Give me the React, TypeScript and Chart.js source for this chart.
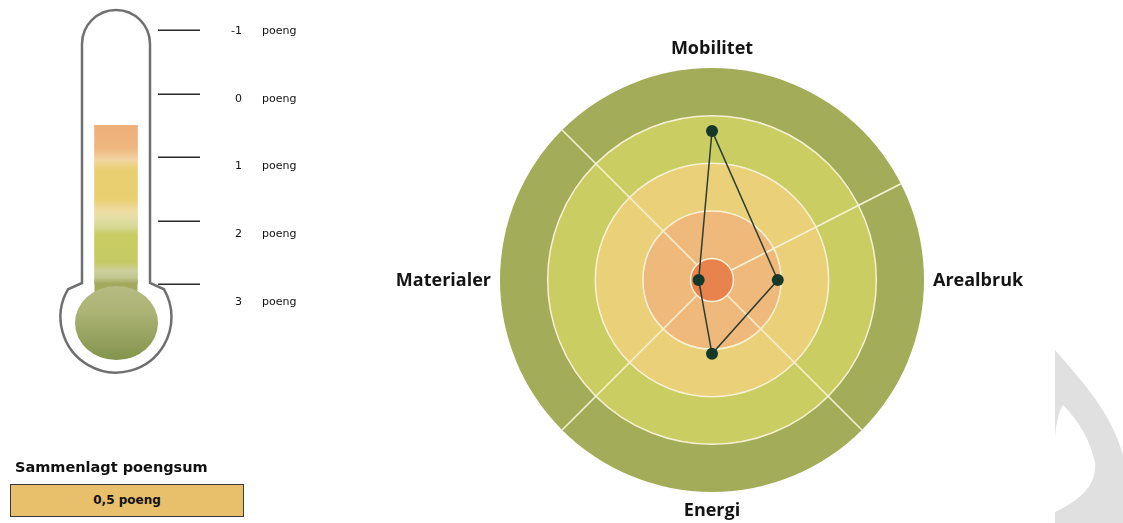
import React, { useEffect, useRef } from 'react';
import { Chart, registerables } from 'chart.js';

Chart.register(...registerables);

// ---------- data ----------
const radarLabels = ['Mobilitet', 'Arealbruk', 'Energi', 'Materialer'];
const radarValues = [1.68, -0.07, 0.1, -1.17];
const radarMin = -1.45;
const radarMax = 3;
const ringValues = [3, 2, 1, 0, -1]; // outer -> inner band edges
const ringColors = ['#a3ac58', '#c9cd62', '#ead078', '#f0b97c', '#e8834d'];
const dividerAngles = [-27, 45, 135, -135];

const thermoTicks = [-1, 0, 1, 2, 3];
const thermoUnit = 'poeng';
const totalScore = 0.5;
const totalLabel = '0,5 poeng';
const totalTitle = 'Sammenlagt poengsum';

// ---------- plugins ----------
const ringsPlugin = {
  id: 'rings',
  beforeDatasetsDraw(chart: any) {
    const s = chart.scales.r;
    const ctx = chart.ctx;
    const cx = s.xCenter;
    const cy = s.yCenter;
    const d = (v: number) => s.getDistanceFromCenterForValue(v);
    ctx.save();
    ringValues.forEach((v, k) => {
      if (k === ringValues.length - 1) return;
      ctx.beginPath();
      ctx.arc(cx, cy, d(v), 0, Math.PI * 2);
      ctx.fillStyle = ringColors[k];
      ctx.fill();
    });
    ctx.strokeStyle = '#f7f2d6';
    ctx.lineWidth = 1.5;
    ringValues.slice(1, -1).forEach((v) => {
      ctx.beginPath();
      ctx.arc(cx, cy, d(v), 0, Math.PI * 2);
      ctx.stroke();
    });
    const r0 = d(ringValues[ringValues.length - 1]);
    const r1 = d(ringValues[0]);
    dividerAngles.forEach((deg) => {
      const a = (deg * Math.PI) / 180;
      ctx.beginPath();
      ctx.moveTo(cx + r0 * Math.cos(a), cy + r0 * Math.sin(a));
      ctx.lineTo(cx + r1 * Math.cos(a), cy + r1 * Math.sin(a));
      ctx.stroke();
    });
    ctx.beginPath();
    ctx.arc(cx, cy, r0, 0, Math.PI * 2);
    ctx.fillStyle = ringColors[ringColors.length - 1];
    ctx.fill();
    ctx.stroke();
    ctx.restore();
  },
  afterDraw(chart: any) {
    const s = chart.scales.r;
    const ctx = chart.ctx;
    const R = s.drawingArea;
    const size = 18;
    const cap = size * 0.72;
    ctx.save();
    ctx.font = `700 ${size}px "Open Sans", sans-serif`;
    ctx.fillStyle = '#141414';
    ctx.textBaseline = 'alphabetic';
    (chart.data.labels as string[]).forEach((lab, i) => {
      const a = s.getIndexAngle(i) - Math.PI / 2;
      const c = Math.cos(a);
      const sn = Math.sin(a);
      let x: number;
      let y: number;
      if (Math.abs(c) < 0.1) {
        ctx.textAlign = 'center';
        if (sn < 0) {
          const p = s.getPointPosition(i, R + 14);
          x = p.x;
          y = p.y;
        } else {
          const p = s.getPointPosition(i, R + 11);
          x = p.x;
          y = p.y + cap;
        }
      } else {
        ctx.textAlign = c > 0 ? 'left' : 'right';
        const p = s.getPointPosition(i, R + 9);
        x = p.x;
        y = p.y + cap / 2;
      }
      ctx.fillText(lab, x, y);
    });
    ctx.restore();
  },
};

const thermoPlugin = {
  id: 'thermo',
  beforeDatasetsDraw(chart: any) {
    const ctx = chart.ctx;
    const ys = chart.scales.y;
    const xs = chart.scales.x;
    const cx = xs.getPixelForValue(0);
    const yTop = ys.getPixelForValue(thermoTicks[0]);
    const yBot = ys.getPixelForValue(thermoTicks[thermoTicks.length - 1]);
    const hw = 34;
    const topC = yTop + 14;
    const neck = yBot - 1;
    const bulbC = yBot + 33;
    const bulbR = 55.5;
    ctx.save();
    ctx.beginPath();
    ctx.moveTo(cx - hw, neck);
    const aL = Math.PI + Math.PI / 6;
    ctx.lineTo(cx + bulbR * Math.cos(aL), bulbC + bulbR * Math.sin(aL));
    ctx.arc(cx, bulbC, bulbR, aL, -Math.PI / 6, true);
    ctx.lineTo(cx + hw, neck);
    ctx.lineTo(cx + hw, topC);
    ctx.arc(cx, topC, hw, 0, Math.PI, true);
    ctx.closePath();
    ctx.fillStyle = '#ffffff';
    ctx.fill();
    ctx.strokeStyle = '#6f6f6f';
    ctx.lineWidth = 2.5;
    ctx.stroke();

    // neck connector + bulb
    ctx.fillStyle = '#a3aa5e';
    ctx.fillRect(cx - 21.5, yBot - 0.5, 43, 11);
    const by = yBot + 39;
    const g = ctx.createLinearGradient(0, by - 37, 0, by + 37);
    g.addColorStop(0, '#b6bb82');
    g.addColorStop(0.35, '#acb375');
    g.addColorStop(1, '#83944b');
    ctx.beginPath();
    ctx.ellipse(cx + 0.5, by, 41.5, 37, 0, 0, Math.PI * 2);
    ctx.fillStyle = g;
    ctx.fill();
    ctx.restore();
  },
  afterDraw(chart: any) {
    const ctx = chart.ctx;
    const ys = chart.scales.y;
    const xs = chart.scales.x;
    const cx = xs.getPixelForValue(0);
    ctx.save();
    ctx.strokeStyle = '#2a2a2a';
    ctx.lineWidth = 1.5;
    ctx.font = '11px "DejaVu Sans", sans-serif';
    ctx.fillStyle = '#111';
    ctx.textBaseline = 'middle';
    thermoTicks.forEach((v) => {
      const py = Math.round(ys.getPixelForValue(v)) + 0.25;
      ctx.beginPath();
      ctx.moveTo(cx + 42, py);
      ctx.lineTo(cx + 84, py);
      ctx.stroke();
      const ly = py + 1 + (v - thermoTicks[0]) * 4.1;
      ctx.textAlign = 'right';
      ctx.fillText(String(v), cx + 126, ly);
      ctx.textAlign = 'left';
      ctx.fillText(thermoUnit, cx + 146, ly);
    });
    ctx.restore();
  },
};

function barGradient(context: any) {
  const chart = context.chart;
  const ys = chart.scales.y;
  if (!chart.chartArea || !ys) return '#e9cf70';
  const lo = thermoTicks[0];
  const hi = thermoTicks[thermoTicks.length - 1];
  const g = chart.ctx.createLinearGradient(0, ys.getPixelForValue(lo), 0, ys.getPixelForValue(hi));
  const f = (v: number) => (v - lo) / (hi - lo);
  g.addColorStop(f(0.5), '#efb07a');
  g.addColorStop(f(0.86), '#f0b57e');
  g.addColorStop(f(1.05), '#f2d5a2');
  g.addColorStop(f(1.2), '#e9cf70');
  g.addColorStop(f(1.65), '#e9cf70');
  g.addColorStop(f(1.85), '#f0dca2');
  g.addColorStop(f(1.97), '#e2dea4');
  g.addColorStop(f(2.1), '#d6d996');
  g.addColorStop(f(2.22), '#c8cc62');
  g.addColorStop(f(2.66), '#c6ca64');
  g.addColorStop(f(2.8), '#ccd09c');
  g.addColorStop(f(2.9), '#c2c690');
  g.addColorStop(1, '#a0a85a');
  return g;
}

export default function App() {
  const thermoRef = useRef<HTMLCanvasElement>(null);
  const radarRef = useRef<HTMLCanvasElement>(null);

  useEffect(() => {
    const thermo = new Chart(thermoRef.current as HTMLCanvasElement, {
      type: 'bar',
      data: {
        labels: [totalTitle],
        datasets: [
          {
            data: [[totalScore, thermoTicks[thermoTicks.length - 1]]] as any,
            backgroundColor: barGradient as any,
            borderWidth: 0,
            borderSkipped: false,
            barThickness: 43,
          },
        ],
      },
      options: {
        responsive: false,
        animation: false,
        events: [],
        layout: { padding: { top: 30, bottom: 116, left: 66, right: 154 } },
        plugins: { legend: { display: false }, tooltip: { enabled: false } },
        scales: {
          x: { display: false, offset: true },
          y: {
            display: false,
            reverse: true,
            min: thermoTicks[0],
            max: thermoTicks[thermoTicks.length - 1],
          },
        },
      },
      plugins: [thermoPlugin],
    });

    const radar = new Chart(radarRef.current as HTMLCanvasElement, {
      type: 'radar',
      data: {
        labels: radarLabels,
        datasets: [
          {
            data: radarValues,
            borderColor: '#2c3d31',
            borderWidth: 1.5,
            fill: false,
            tension: 0,
            pointRadius: 6,
            pointBackgroundColor: '#15382b',
            pointBorderWidth: 0,
          },
        ],
      },
      options: {
        responsive: false,
        animation: false,
        events: [],
        layout: { padding: { top: 68, bottom: 31, left: 120, right: 116 } },
        plugins: { legend: { display: false }, tooltip: { enabled: false } },
        scales: {
          r: {
            min: radarMin,
            max: radarMax,
            ticks: { display: false },
            grid: { display: false },
            angleLines: { display: false },
            pointLabels: { display: false },
          },
        },
      },
      plugins: [ringsPlugin],
    });

    return () => {
      thermo.destroy();
      radar.destroy();
    };
  }, []);

  return (
    <div
      style={{
        position: 'absolute',
        left: 0,
        top: 0,
        width: 1123,
        height: 523,
        background: '#ffffff',
        overflow: 'hidden',
      }}
    >
      <canvas ref={thermoRef} width={320} height={400} style={{ position: 'absolute', left: 0, top: 0 }} />
      <canvas ref={radarRef} width={660} height={523} style={{ position: 'absolute', left: 380, top: 0 }} />
      <svg width={1123} height={523} style={{ position: 'absolute', left: 0, top: 0, pointerEvents: 'none' }}>
        <path
          d="M1055,350 L1055,437 Q1057,414 1063,405 Q1088,430 1095,463 Q1098,492 1055,512 L1055,523 L1123,523 L1123,455 C1113,420 1095,395 1055,350 Z"
          fill="#e0e0e0"
        />
      </svg>
      <div
        style={{
          position: 'absolute',
          left: 15,
          top: 458,
          height: 18,
          lineHeight: '18px',
          fontFamily: '"DejaVu Sans", sans-serif',
          fontWeight: 700,
          fontSize: 14.5,
          color: '#111',
          whiteSpace: 'nowrap',
        }}
      >
        {totalTitle}
      </div>
      <div
        style={{
          position: 'absolute',
          left: 10,
          top: 484,
          width: 232,
          height: 31,
          border: '1px solid #3a3a3a',
          background: '#e8bf6b',
          lineHeight: '31px',
          textAlign: 'center',
          fontFamily: '"DejaVu Sans", sans-serif',
          fontWeight: 700,
          fontSize: 12,
          color: '#111',
        }}
      >
        {totalLabel}
      </div>
    </div>
  );
}
